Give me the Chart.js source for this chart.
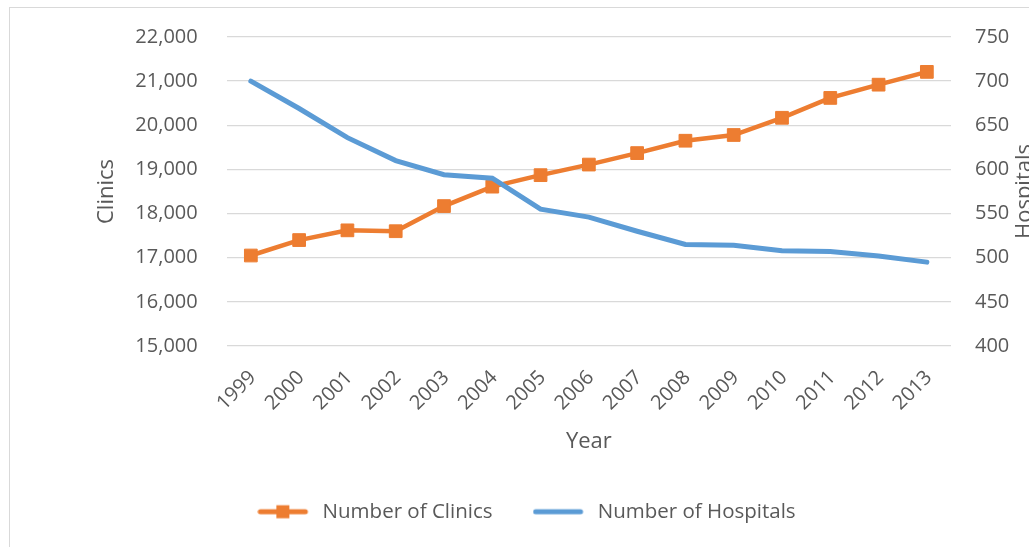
<!DOCTYPE html>
<html>
<head>
<meta charset="utf-8">
<script src="https://cdn.jsdelivr.net/npm/chart.js@4/dist/chart.umd.min.js"></script>
<style>
  html, body { margin: 0; padding: 0; background: #fff; overflow: hidden; }
  #wrap { position: relative; width: 1029px; height: 547px; }
  #frame { position: absolute; left: 9px; top: 7px; width: 1100px; height: 600px; border: 1.5px solid #d9d9d9; box-sizing: border-box; }
  #chart { position: absolute; left: 0; top: 0; }
</style>
</head>
<body>
<div id="wrap">
  <div id="frame"></div>
  <canvas id="chart" width="1029" height="547"></canvas>
</div>
<script>
const YEARS = ["1999","2000","2001","2002","2003","2004","2005","2006","2007","2008","2009","2010","2011","2012","2013"];
const CLINICS = [17050, 17400, 17620, 17600, 18170, 18610, 18870, 19110, 19370, 19650, 19780, 20170, 20620, 20920, 21210];
const HOSPITALS = [700, 669, 636, 610, 594, 590, 555, 546, 530, 515, 514, 508, 507, 502, 495];

const ORANGE = "#ed7d31";
const BLUE = "#5b9bd5";
const TEXT = "#595959";
const GRID = "#d9d9d9";
const FONT = "'Open Sans', sans-serif";

// legend markers: line with optional square
function marker(color, square) {
  var c = document.createElement("canvas");
  c.width = 55; c.height = 16;
  var g = c.getContext("2d");
  g.strokeStyle = color;
  g.lineWidth = 5;
  g.lineCap = "round";
  g.beginPath(); g.moveTo(3, 8); g.lineTo(48, 8); g.stroke();
  if (square) { g.fillStyle = color; g.fillRect(19, 1.5, 13, 13); }
  return c;
}
var markers = [marker(ORANGE, true), marker(BLUE, false)];

const rightTitle = {
  id: "rightTitle",
  afterDraw(chart) {
    var ctx = chart.ctx, a = chart.chartArea;
    ctx.save();
    ctx.translate(1025, (a.top + a.bottom) / 2);
    ctx.rotate(-Math.PI / 2);
    ctx.fillStyle = TEXT;
    ctx.font = "22px " + FONT;
    ctx.textAlign = "center";
    ctx.textBaseline = "middle";
    ctx.fillText("Hospitals", 0, 0);
    ctx.restore();
  }
};

new Chart(document.getElementById("chart"), {
  type: "line",
  data: {
    labels: YEARS,
    datasets: [{
      label: "Number of Clinics",
      data: CLINICS,
      yAxisID: "y",
      order: 1,
      borderColor: ORANGE,
      backgroundColor: ORANGE,
      borderWidth: 4.5,
      pointStyle: "rect",
      pointRadius: 9,
      pointBorderWidth: 1,
      pointBackgroundColor: ORANGE,
      pointBorderColor: ORANGE,
      tension: 0
    }, {
      label: "Number of Hospitals",
      data: HOSPITALS,
      yAxisID: "y1",
      order: 0,
      borderColor: BLUE,
      backgroundColor: BLUE,
      borderWidth: 5,
      borderCapStyle: "round",
      pointRadius: 0,
      tension: 0
    }]
  },
  options: {
    responsive: false,
    animation: false,
    layout: { padding: { top: 37, bottom: 15, left: 24, right: 0 } },
    scales: {
      x: {
        offset: true,
        grid: { display: false },
        border: { display: false },
        afterFit: function(s) { s.height = 115.5; },
        ticks: { color: TEXT, font: { family: FONT, size: 20 }, minRotation: 45, maxRotation: 45, padding: 12, labelOffset: 2 },
        title: { display: true, text: "Year", color: TEXT, font: { family: FONT, size: 22 }, padding: { top: 0, bottom: 7 } }
      },
      y: {
        position: "left",
        min: 15000,
        max: 22000,
        afterFit: function(s) { s.width = 202.7; },
        grid: { color: GRID, lineWidth: 1.3, drawTicks: false },
        border: { display: false },
        ticks: {
          stepSize: 1000,
          padding: 29,
          color: TEXT,
          font: { family: FONT, size: 20, lineHeight: 0.8 },
          callback: function(v) { return v.toLocaleString("en-US"); }
        },
        title: { display: true, text: "Clinics", color: TEXT, font: { family: FONT, size: 22 }, padding: { top: 70, bottom: 0 } }
      },
      y1: {
        position: "right",
        min: 400,
        max: 750,
        afterFit: function(s) { s.width = 78; },
        grid: { display: false, drawTicks: false },
        border: { display: false },
        ticks: { stepSize: 50, padding: 24, color: TEXT, font: { family: FONT, size: 20, lineHeight: 0.8 } }
      }
    },
    plugins: {
      legend: {
        position: "bottom",
        labels: {
          color: TEXT,
          font: { family: FONT, size: 20.5 },
          usePointStyle: true,
          pointStyleWidth: 55,
          padding: 40,
          generateLabels: function(chart) {
            return chart.data.datasets.map(function(d, i) {
              return { text: d.label, datasetIndex: i, pointStyle: markers[i], fontColor: TEXT, hidden: false, lineWidth: 0, strokeStyle: "transparent", fillStyle: "transparent" };
            });
          }
        }
      },
      tooltip: { enabled: false }
    }
  },
  plugins: [rightTitle]
});
</script>
</body>
</html>
